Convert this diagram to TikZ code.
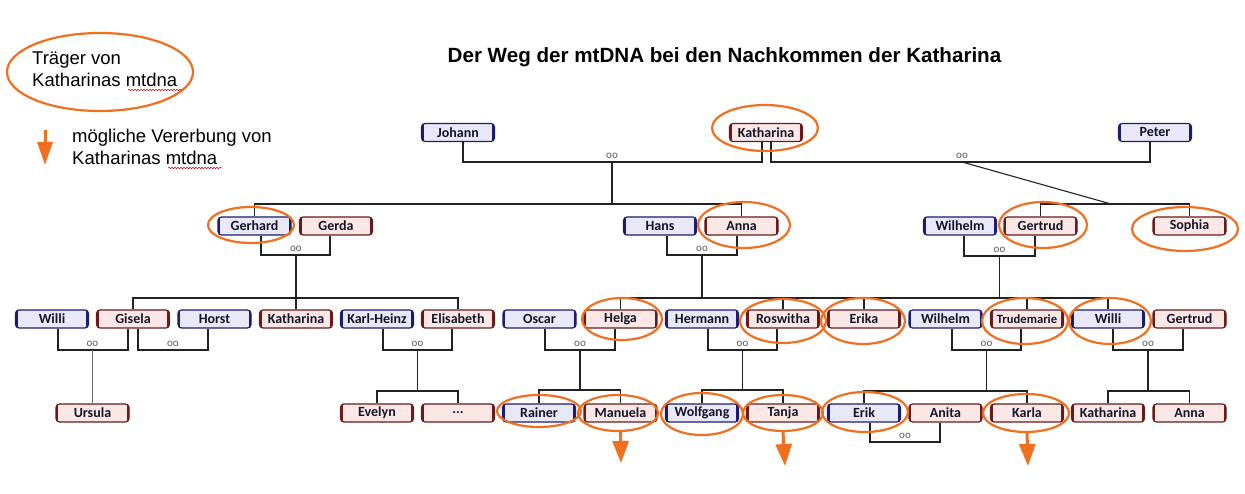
\documentclass[tikz,border=0pt]{standalone}
\usepackage{fontspec}
\setmainfont{Liberation Sans}
\newfontfamily\boxfont{Carlito}
\usetikzlibrary{arrows.meta,decorations.pathmorphing}
\definecolor{mborder}{HTML}{1C1C70}
\definecolor{mfill}{HTML}{E8E8F8}
\definecolor{fborder}{HTML}{6A1A1A}
\definecolor{ffill}{HTML}{FBE8E6}
\definecolor{orng}{HTML}{F07020}
\definecolor{txt}{HTML}{15152A}
\definecolor{conncol}{HTML}{222222}
\begin{document}
\begin{tikzpicture}[x=1pt,y=-1pt,
  person/.style={rounded corners=3.5pt, minimum width=73pt, minimum height=18pt, inner sep=0pt,
    line width=1.2pt, font=\boxfont\bfseries\fontsize{14}{14}\selectfont, text=txt},
  male/.style={person, draw=mborder, fill=mfill,
    path picture={\draw[mborder, line width=4.5pt]
      (path picture bounding box.south west) -- (path picture bounding box.north west)
      (path picture bounding box.south east) -- (path picture bounding box.north east);}},
  female/.style={person, draw=fborder, fill=ffill,
    path picture={\draw[fborder, line width=4.5pt]
      (path picture bounding box.south west) -- (path picture bounding box.north west)
      (path picture bounding box.south east) -- (path picture bounding box.north east);}},
  conn/.style={line width=1.1pt, conncol},
  oo/.style={font=\boxfont\fontsize{11}{10}\selectfont, text=black!65, inner sep=0pt},
  ring/.style={draw=orng, line width=2.2pt},
  inherit/.style={orng, line width=3pt, -{Triangle[length=22pt,width=16pt]}},
  legendtext/.style={font=\fontsize{18.5}{22}\selectfont, inner sep=0pt, anchor=base west},
  squiggle/.style={red!80!black, line width=0.5pt, decorate, decoration={snake, amplitude=0.7pt, segment length=3pt}}
]
\useasboundingbox[fill=white] (0,0) rectangle (1245,494);

% title
\node[font=\bfseries\fontsize{20.6}{24}\selectfont, anchor=base, inner sep=0pt] (title) at (724.5,63) {Der Weg der mtDNA bei den Nachkommen der Katharina};

% legend
\draw[ring] (100,72) ellipse [x radius=93, y radius=39];
\node[legendtext] (lg1) at (32,65) {Träger von};
\node[legendtext] (lg2) at (32,87) {Katharinas mtdna};
\draw[squiggle] (128,90) -- (182,90);
\coordinate (la1) at (45,130);
\coordinate (la2) at (45,165);
\draw[orng, line width=3pt, -{Triangle[length=23pt,width=15pt]}] (la1) -- (la2);
\node[legendtext] (lg3) at (72,143) {mögliche Vererbung von};
\node[legendtext] (lg4) at (72,165) {Katharinas mtdna};
\draw[squiggle] (168,168) -- (222,168);

% row 0
\node[male]   (johann) at (458,132.5) {Johann};
\node[female] (kath0)  at (766,132.5) {Katharina};
\node[male]   (peter)  at (1155,132.5) {Peter};

% row 1
\node[male]   (gerhard)  at (254.5,226) {Gerhard};
\node[female] (gerda)    at (336,226) {Gerda};
\node[male]   (hans)     at (660,226) {Hans};
\node[female] (anna1)    at (741.5,226) {Anna};
\node[male]   (wilhelm1) at (960,226) {Wilhelm};
\node[female] (gertrud1) at (1040.5,226) {Gertrud};
\node[female] (sophia)   at (1189.5,226) {Sophia};

% row 2
\node[male]   (willi2a)    at (52,319) {Willi};
\node[female] (gisela)     at (133,319) {Gisela};
\node[male]   (horst)      at (214.5,319) {Horst};
\node[female] (kath2)      at (296,319) {Katharina};
\node[male]   (karlheinz)  at (377,319) {Karl-Heinz};
\node[female] (elisabeth)  at (458,319) {Elisabeth};
\node[male]   (oscar)      at (539.5,319) {Oscar};
\node[female] (helga)      at (620.5,319) {Helga};
\node[male]   (hermann)    at (702,319) {Hermann};
\node[female] (roswitha)   at (783,319) {Roswitha};
\node[female] (erika)      at (864,319) {Erika};
\node[male]   (wilhelm2)   at (945.5,319) {Wilhelm};
\node[female, font=\boxfont\bfseries\fontsize{12.6}{13}\selectfont] (trudemarie) at (1027,319) {Trudemarie};
\node[male]   (willi2b)    at (1108,319) {Willi};
\node[female] (gertrud2)   at (1189.5,319) {Gertrud};

% row 3
\node[female] (ursula)   at (92.5,413) {Ursula};
\node[female] (evelyn)   at (377,413) {Evelyn};
\node[female] (dots)     at (458,413) {...};
\node[male]   (rainer)   at (539,413) {Rainer};
\node[female] (manuela)  at (620.5,413) {Manuela};
\node[male]   (wolfgang) at (702,413) {Wolfgang};
\node[female] (tanja)    at (783,413) {Tanja};
\node[male]   (erik)     at (864,413) {Erik};
\node[female] (anita)    at (945.5,413) {Anita};
\node[female] (karla)    at (1027,413) {Karla};
\node[female] (kath3)    at (1108,413) {Katharina};
\node[female] (anna3)    at (1189.5,413) {Anna};

% marriage / child-line coordinates
\coordinate (m01) at (612,162);   \coordinate (c01) at (612,204);
\coordinate (m02) at (962,162);   \coordinate (c02) at (1111,204);
\coordinate (m11) at (296,255);   \coordinate (c11) at (296,298);
\coordinate (m12) at (702,255);   \coordinate (c12) at (702,298);
\coordinate (m13) at (999.5,256); \coordinate (c13) at (999.5,298);
\coordinate (m21) at (92.5,350);
\coordinate (m22) at (173,350);
\coordinate (m23) at (417.5,350); \coordinate (c23) at (417.5,391);
\coordinate (m24) at (580,350);   \coordinate (c24) at (580,390);
\coordinate (m25) at (742.5,350); \coordinate (c25) at (742.5,390);
\coordinate (m26) at (986.5,350); \coordinate (c26) at (986.5,391);
\coordinate (m27) at (1148,350);  \coordinate (c27) at (1148,391);
\coordinate (m31) at (905,442);

% generation 0
\draw[conn] ([xshift=5pt]johann.south) |- (m01) -| ([xshift=-4pt]kath0.south);
\draw[conn] (m01) -- (c01);
\draw[conn] (gerhard.north) |- (c01) -| (anna1.north);
\draw[conn] ([xshift=5pt]kath0.south) |- (m02) -| ([xshift=-5pt]peter.south);
\draw[conn] (m02) -- (c02);
\draw[conn] (gertrud1.north) |- (c02) -| (sophia.north);

% generation 1
\draw[conn] ([xshift=6.5pt]gerhard.south) |- (m11) -| ([xshift=-6pt]gerda.south);
\draw[conn] (m11) -- (c11);
\draw[conn] (gisela.north) |- (c11) -| (elisabeth.north);
\draw[conn] (kath2.north) -- (c11);
\draw[conn] ([xshift=7pt]hans.south) |- (m12) -| ([xshift=-4.5pt]anna1.south);
\draw[conn] (m12) -- (c12);
\draw[conn] (helga.north) |- (c12) -| (erika.north);
\draw[conn] (roswitha.north) -- (roswitha.north |- c12);
\draw[conn] ([xshift=4pt]wilhelm1.south) |- (m13) -| ([xshift=-5.5pt]gertrud1.south);
\draw[conn] (m13) -- (c13);
\draw[conn] (erika.north) |- (c13) -| (willi2b.north);
\draw[conn] (trudemarie.north) -- (trudemarie.north |- c13);

% generation 2
\draw[conn] ([xshift=6pt]willi2a.south) |- (m21) -| ([xshift=-5pt]gisela.south);
\draw[line width=0.8pt, black!55] (m21) -- (ursula.north);
\draw[conn] ([xshift=5pt]gisela.south) |- (m22) -| ([xshift=-6.5pt]horst.south);
\draw[conn] ([xshift=6pt]karlheinz.south) |- (m23) -| ([xshift=-6pt]elisabeth.south);
\draw[conn] (m23) -- (c23);
\draw[conn] (evelyn.north) |- (c23) -| (dots.north);
\draw[conn] ([xshift=5.5pt]oscar.south) |- (m24) -| ([xshift=-5.5pt]helga.south);
\draw[conn] (m24) -- (c24);
\draw[conn] (rainer.north) |- (c24) -| (manuela.north);
\draw[conn] ([xshift=6pt]hermann.south) |- (m25) -| ([xshift=-6pt]roswitha.south);
\draw[conn] (m25) -- (c25);
\draw[conn] (wolfgang.north) |- (c25) -| (tanja.north);
\draw[conn] ([xshift=6.5pt]wilhelm2.south) |- (m26) -| ([xshift=-6pt]trudemarie.south);
\draw[conn] (m26) -- (c26);
\draw[conn] (erik.north) |- (c26) -| (karla.north);
\draw[conn] ([xshift=5pt]willi2b.south) |- (m27) -| ([xshift=-6.5pt]gertrud2.south);
\draw[conn] (m27) -- (c27);
\draw[conn] (kath3.north) |- (c27) -| (anna3.north);

% generation 3
\draw[conn] ([xshift=6pt]erik.south) |- (m31) -| ([xshift=-5.5pt]anita.south);

% marriage symbols
\foreach \m in {m01,m02,m11,m12,m13,m21,m22,m23,m24,m25,m26,m27,m31}
  \node[oo, above=3pt] at (\m) {oo};

% carriers of Katharina's mtDNA
\draw[ring] (765,128) ellipse [x radius=53, y radius=23];
\draw[ring] (251,225) ellipse [x radius=43, y radius=18];
\draw[ring] (744,225) ellipse [x radius=46, y radius=23];
\draw[ring] (1043,225) ellipse [x radius=44, y radius=23];
\draw[ring] (1185,229) ellipse [x radius=53, y radius=22];
\draw[ring] (622,319) ellipse [x radius=40, y radius=21];
\draw[ring] (783,321) ellipse [x radius=43, y radius=22];
\draw[ring] (863,321) ellipse [x radius=42, y radius=23];
\draw[ring] (1025,321) ellipse [x radius=43, y radius=23];
\draw[ring] (1110,321) ellipse [x radius=41, y radius=23];
\draw[ring] (539,411) ellipse [x radius=42, y radius=16];
\draw[ring] (618,413) ellipse [x radius=40, y radius=18];
\draw[ring] (702,414) ellipse [x radius=41, y radius=21];
\draw[ring] (783,413) ellipse [x radius=40, y radius=18];
\draw[ring] (865,412) ellipse [x radius=43, y radius=20];
\draw[ring] (1026,413) ellipse [x radius=43, y radius=19];

% possible inheritance arrows
\coordinate (a1) at (621,463);
\coordinate (a2) at (785,466);
\coordinate (a3) at (1028,466);
\draw[inherit] ([yshift=-9pt]manuela.south) -- (a1);
\draw[inherit] ([yshift=-9pt]tanja.south) -- (a2);
\draw[inherit] ([yshift=-9pt]karla.south) -- (a3);
\end{tikzpicture}
\end{document}
